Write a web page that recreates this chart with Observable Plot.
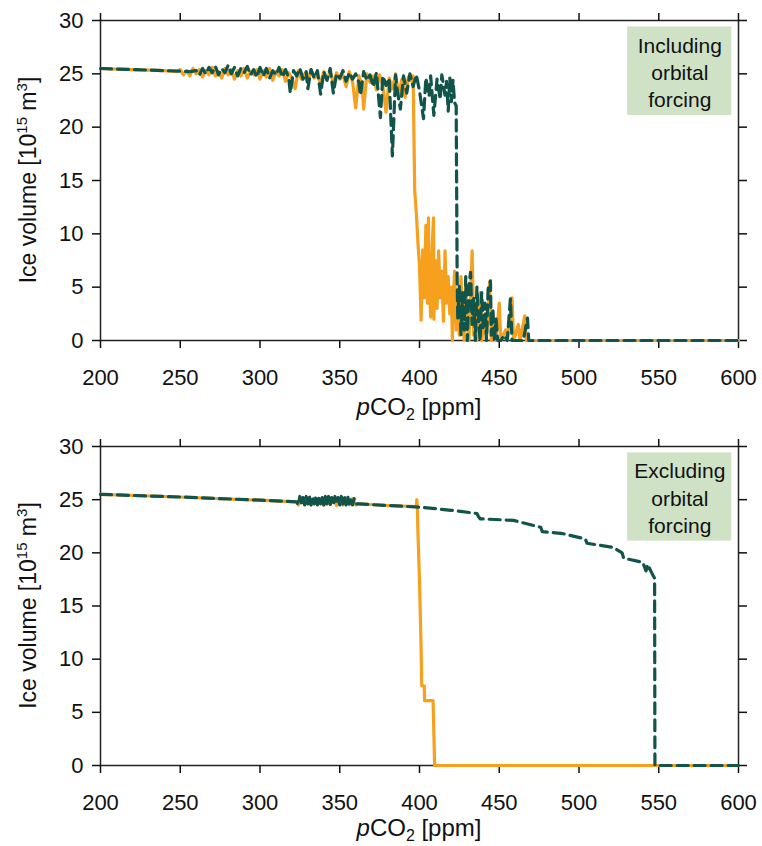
<!DOCTYPE html>
<html><head><meta charset="utf-8">
<script src="https://cdn.jsdelivr.net/npm/d3@7"></script>
<script src="https://cdn.jsdelivr.net/npm/@observablehq/plot@0.6"></script>
<style>
body{margin:0;background:#fff;}
#chart{width:762px;height:846px;}
svg{display:block;}
</style></head><body><div id="chart"></div>
<script>
// ---- data ----
const xTicks = [200,250,300,350,400,450,500,550,600];
const yTicks = [0,5,10,15,20,25,30];
const notes = ["Including\norbital\nforcing", "Excluding\norbital\nforcing"];

// Top panel (including orbital forcing)
const topOrangeCO2 = [200,210,220,230,240,248,
250,252,254,256,258,260,262,264,266,268,270,272,274,276,278,280,282,284,286,288,290,292,294,296,298,
300,302,304,306,308,310,312,314,316,318,320,322,324,326,328,330,332,334,336,338,340,342,344,346,348,
350,352,354,356,358,360,362,364,365,367,369,371,373,375,377,379,381,383,385,387,389,391,393,395,396,
397,398,399,400,401,402,403,404,405,405.6,406,407,408,408.8,409,410,411,412,413,414,415,416,417,418,419,420,420.6,
421,422,423,424,425,426,427,428,429,430,431,433,434,435,436,438,439,441,442,444,445,447,448,450,451,454,455,458,459,462,463,466,467,470,600];
const topOrangeIce = [25.5,25.45,25.4,25.35,25.3,25.2,
25.4,24.9,25.3,24.8,25.5,25.0,25.4,24.7,25.3,24.9,25.6,24.8,25.2,24.6,25.5,24.9,25.4,24.5,25.3,24.8,25.5,24.6,25.2,24.9,25.4,
24.5,25.3,24.7,25.5,24.4,25.2,24.8,25.4,24.3,25.1,24.6,23.6,25.3,24.5,25.0,24.2,25.4,24.6,24.9,24.1,25.2,24.4,25.3,24.0,25.1,
24.5,24.9,23.8,25.2,24.3,21.8,24.8,24.0,21.7,25.0,24.2,24.8,23.5,24.9,23.9,21.4,24.6,23.6,25.0,23.0,24.5,22.8,24.7,24.3,24.8,
14,12,9.2,7.0,1.9,8.5,4.0,10.8,3.5,11.5,6.0,2.2,9.0,11.5,2.0,7.5,3.0,8.4,4.0,6.5,1.8,8.4,3.5,6.0,2.5,5.0,0,
3.0,6.5,1.0,4.5,0.5,6.0,2.0,0,5.5,1.5,0,8.4,0.5,3.0,0,4.5,0,2.5,0,5.5,0,2.0,0,3.5,0,1.0,0,4.0,0,1.5,0,2.3,0,0,0];

const topGreenCO2 = [200,210,220,230,240,250,256,
260,262,264,266,268,270,272,274,276,278,280,282,284,286,288,290,292,294,296,298,
300,302,304,306,308,310,312,314,316,318,319,321,323,325,327,329,330,332,334,336,338,340,342,344,346,348,
350,352,354,356,358,360,362,363,365,367,369,371,373,375.5,377,379,381,383,385,386,388,390,392,394,396,398,
400,402.5,404,406,407,409,411,413,414,416,417,418,419,420,421,422,423,423.6,
424,425,426,427,428,429,430,431,432,433,434,435,436,437,438,439,440,441,442,443,444.5,445,446,447,448,449,451,453,455,457,458,460,463,465,467.7,468.5,600];
const topGreenIce = [25.5,25.45,25.4,25.35,25.3,25.25,25.2,
25.3,24.9,25.5,25.0,25.6,25.1,25.7,24.9,25.5,25.1,25.8,25.0,25.6,24.8,25.5,25.1,25.7,24.9,25.4,24.7,
25.6,24.8,25.5,24.6,25.3,24.9,25.6,24.7,25.4,24.6,23.2,25.3,24.8,25.5,24.5,25.2,23.6,25.4,24.6,25.3,23.1,25.2,24.4,25.5,23.2,25.0,
24.6,25.3,24.3,25.1,24.5,25.0,24.2,23.0,25.2,24.4,24.9,23.8,25.1,20.9,24.8,23.9,24.6,17.3,24.9,23.5,21.7,24.8,23.2,25.0,23.8,24.9,
23.4,20.8,24.6,22.9,24.8,21.1,24.5,22.6,24.9,23.0,24.3,21.5,24.6,22.4,24.4,22.3,22.0,6.0,
2.0,5.2,0.5,4.5,1.0,6.0,0,5.0,6.4,1.5,4.0,0,5.0,2.0,0,4.5,1.0,3.5,0,4.8,5.6,0.5,3.0,0,2.0,0,0,0.5,0,3.9,0,0,0,0,2.1,0,0];

// Bottom panel (excluding orbital forcing)
const botOrangeCO2 = [200,250,300,323,324,326,328,330,332,334,336,338,340,342,344,346,348,350,352,354,356,358,360,
362,380,398.1,398.3,398.6,399,400,401,401.4,403,403.2,408.5,409.5,600];
const botOrangeIce = [25.5,25.25,24.95,24.8,24.5,25.0,24.55,25.05,24.5,24.95,24.6,25.1,24.5,25.0,24.55,25.05,24.45,24.95,24.5,25.0,24.55,25.1,24.5,
24.6,24.45,24.35,25.0,24.5,22,17.4,11,7.5,7.5,6.1,6.1,0,0];

const botGreenCO2 = [200,250,300,323,
324,325,326,327,328,329,330,331,332,333,334,335,336,337,338,339,340,341,342,343,344,345,346,347,348,349,350,351,352,353,354,355,356,357,358,359,360,
362,380,400,420,436,437,438,459,476,477,490,504,505,521.6,527,528,540,542,543,546,547.4,547.6,600];
const botGreenIce = [25.5,25.25,24.95,24.8,
24.5,25.3,24.6,25.2,24.5,25.3,24.6,25.3,24.5,25.2,24.6,25.3,24.5,25.3,24.6,25.2,24.5,25.3,24.6,25.3,24.5,25.2,24.5,25.3,24.6,25.2,24.5,25.3,24.6,25.2,24.5,25.3,24.6,25.2,24.5,25.1,24.6,
24.6,24.45,24.3,24.0,23.7,23.4,23.2,23.05,22.4,22.0,21.8,21.3,20.9,20.5,20.0,19.5,19.1,18.3,18.9,18.0,17.6,0,0];

// ---- style ----
const ORANGE = "#f6a01e", GREEN = "#10544a", BOX = "#d0e2c5", INK = "#111";
const FONT = "'Liberation Sans', Arial, Helvetica, sans-serif";

function toRows(xs, ys){ return xs.map((x,i)=>({co2:x, ice:ys[i]})); }

function panel(oX,oY,gX,gY,note,H,mt,mb,labelOffset){
  const fig = Plot.plot({
    width: 762, height: H,
    marginLeft: 100, marginRight: 24, marginTop: mt, marginBottom: mb,
    style: {fontFamily: FONT, color: INK, background: "#fff", overflow: "visible"},
    x: {domain: [200,600], ticks: xTicks},
    y: {domain: [0,30], ticks: yTicks},
    marks: [
      Plot.rect([note], {x1: 530.5, x2: 595.8, y1: 21.1, y2: 29.4, fill: BOX}),
      Plot.text([note], {x: 563.2, y: 25.25, text: d=>d, fontSize: 21, lineHeight: 1.3, fill: INK}),
      Plot.frame({stroke: "#222", strokeWidth: 1.5}),
      Plot.axisX({anchor:"bottom", ticks: xTicks, tickSize: 8, tickPadding: 21, fontSize: 22, label: null, strokeWidth: 1.5}),
      Plot.axisX({anchor:"top", ticks: xTicks, tickSize: 8, tickFormat: ()=>"", label: null, strokeWidth: 1.5}),
      Plot.axisY({anchor:"left", ticks: yTicks, tickSize: 8, tickPadding: 9, fontSize: 22, label: null, strokeWidth: 1.5}),
      Plot.axisY({anchor:"right", ticks: yTicks, tickSize: 8, tickFormat: ()=>"", label: null, strokeWidth: 1.5}),
      Plot.line(toRows(oX,oY), {x:"co2", y:"ice", stroke: ORANGE, strokeWidth: 3.2}),
      Plot.line(toRows(gX,gY), {x:"co2", y:"ice", stroke: GREEN, strokeWidth: 3.2, strokeDasharray: "11,6"})
    ]
  });
  const sx = fig.scale("x"), sy = fig.scale("y");
  const svg = d3.select(fig);
  const xl = svg.append("text")
    .attr("x", sx.apply(400)).attr("y", sy.apply(0) + labelOffset)
    .attr("text-anchor", "middle").attr("font-size", 24).attr("fill", INK).attr("font-family", FONT);
  xl.append("tspan").attr("font-style", "italic").text("p");
  xl.append("tspan").text("CO");
  xl.append("tspan").attr("font-size", 16).attr("dy", 5).text("2");
  xl.append("tspan").attr("dy", -5).text(" [ppm]");
  const yl = svg.append("text")
    .attr("transform", `translate(36,${sy.apply(15)}) rotate(-90)`)
    .attr("text-anchor", "middle").attr("font-size", 23).attr("fill", INK).attr("font-family", FONT);
  yl.append("tspan").text("Ice volume [10");
  yl.append("tspan").attr("font-size", 15).attr("dy", -9).text("15");
  yl.append("tspan").attr("dy", 9).text(" m");
  yl.append("tspan").attr("font-size", 15).attr("dy", -9).text("3");
  yl.append("tspan").attr("dy", 9).text("]");
  return fig;
}

const root = document.getElementById("chart");
root.appendChild(panel(topOrangeCO2, topOrangeIce, topGreenCO2, topGreenIce, notes[0], 421, 20, 81, 75));
root.appendChild(panel(botOrangeCO2, botOrangeIce, botGreenCO2, botGreenIce, notes[1], 425, 25, 81, 71));
</script></body></html>
